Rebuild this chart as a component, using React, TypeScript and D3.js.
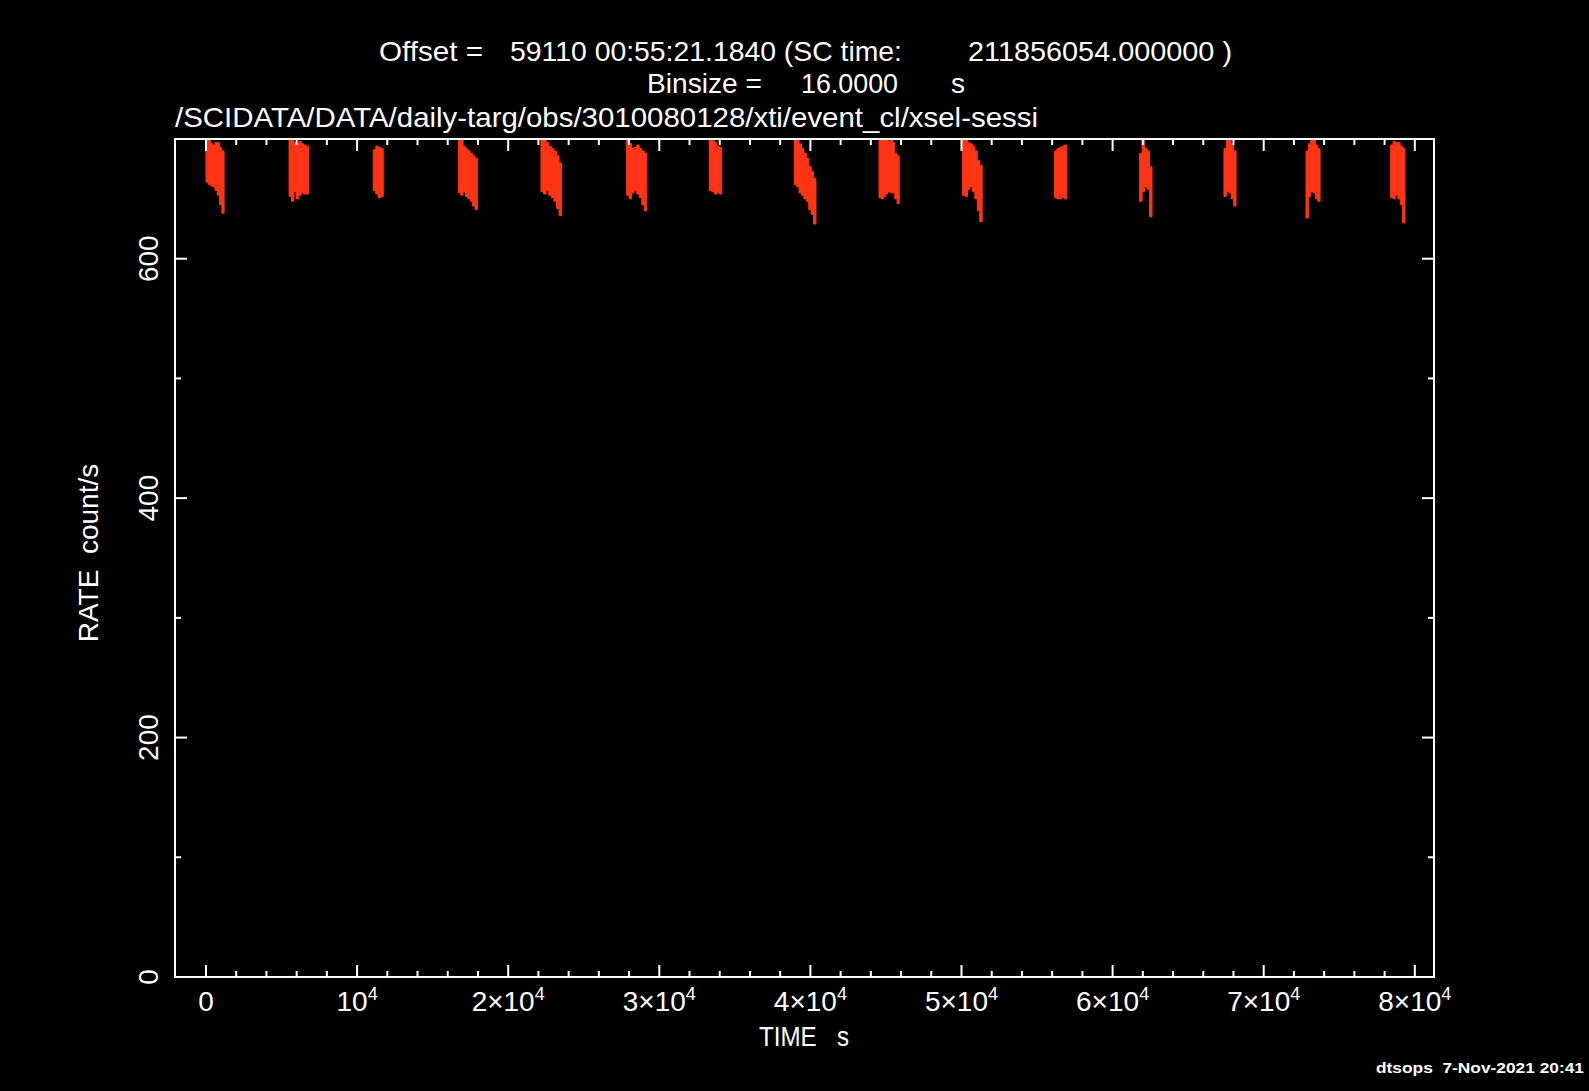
import React from 'react';
import * as d3 from 'd3';

// light curve bursts: start/end time (s) and, per
// time chunk, the lowest and highest rate reached (count/s)
const burstStart = [0, 5500, 11070, 16700, 22170, 27840, 33310, 38930, 44540, 50070, 56150, 61790, 67370, 72800, 78400];
const burstEnd = [1200, 6780, 11730, 17960, 23540, 29170, 34130, 40370, 45880, 51370, 56960, 62610, 68170, 73730, 79350];
const burstHigh = [
  [705, 702, 696, 695, 697, 697, 693, 690],
  [705, 705, 697, 696, 698, 696, 695, 694],
  [691, 694, 693, 692],
  [705, 700, 694, 692, 690, 688, 686, 684],
  [705, 703, 697, 694, 692, 690, 686, 680],
  [705, 696, 692, 693, 695, 692, 690, 688],
  [705, 705, 697, 694, 693],
  [705, 703, 696, 692, 688, 684, 677, 673, 667],
  [705, 705, 700, 702, 698, 700, 697, 688, 686],
  [703, 700, 697, 696, 694, 690, 682, 678],
  [690, 692, 693, 694, 695],
  [688, 703, 692, 690, 677],
  [692, 700, 703, 696, 690],
  [690, 696, 702, 700, 695, 692],
  [695, 698, 697, 697, 694, 692],
];
const burstLow = [
  [664, 662, 661, 660, 657, 653, 645, 638],
  [652, 648, 656, 650, 653, 655, 654, 654],
  [657, 654, 651, 652],
  [655, 653, 656, 652, 650, 648, 644, 641],
  [656, 654, 657, 653, 651, 648, 642, 636],
  [653, 650, 655, 657, 654, 651, 645, 640],
  [657, 656, 654, 655, 654],
  [662, 660, 655, 653, 650, 648, 641, 637, 629],
  [651, 650, 652, 654, 656, 655, 655, 650, 646],
  [653, 652, 658, 660, 656, 650, 640, 631],
  [651, 650, 650, 651, 650],
  [648, 656, 660, 658, 635],
  [652, 656, 655, 650, 644],
  [634, 652, 656, 655, 650, 648],
  [651, 650, 653, 650, 645, 630],
];

const xMajorTicks = [0, 10000, 20000, 30000, 40000, 50000, 60000, 70000, 80000];
const xTickLabels = ['0', '10^4', '2×10^4', '3×10^4', '4×10^4', '5×10^4', '6×10^4', '7×10^4', '8×10^4'];
const yMajorTicks = [0, 200, 400, 600];
const yTickLabels = ['0', '200', '400', '600'];

const W = 1589;
const H = 1091;
const left = 175;
const right = 1434;
const top = 139;
const bottom = 977;
const FONT = '"Liberation Sans", Arial, sans-serif';
const RED = '#ff3415';

export default function App() {
  const x = d3.scaleLinear().domain([-2050, 81270]).range([left, right]);
  const y = d3.scaleLinear().domain([0, 700]).range([bottom, top]);

  const xMinor = d3.range(0, 80001, 2000).filter(v => !xMajorTicks.includes(v));
  const yMinor = d3.range(100, 700, 100).filter(v => !yMajorTicks.includes(v));

  type Pt = { t: number; lo: number; hi: number };
  const area = d3.area<Pt>()
    .x(d => x(d.t))
    .y0(d => y(d.lo))
    .y1(d => y(d.hi))
    .curve(d3.curveStepAfter);

  const bursts = burstStart.map((t0, i) => {
    const hi = burstHigh[i];
    const lo = burstLow[i];
    const step = (burstEnd[i] - t0) / hi.length;
    const pts: Pt[] = hi.map((h, j) => ({ t: t0 + j * step, lo: lo[j], hi: h }));
    pts.push({ t: burstEnd[i], lo: lo[lo.length - 1], hi: hi[hi.length - 1] });
    return area(pts) as string;
  });

  const txt = { fill: '#fff', fontFamily: FONT, whiteSpace: 'pre' } as React.CSSProperties;

  return (
    <div style={{ position: 'fixed', left: 0, top: 0, width: W, height: H, background: '#000' }}>
      <svg width={W} height={H} style={{ display: 'block' }}>
        <rect width={W} height={H} fill="#000" />
        <defs>
          <clipPath id="plot">
            <rect x={left} y={top} width={right - left} height={bottom - top} />
          </clipPath>
        </defs>

        {/* data */}
        <g clipPath="url(#plot)">
          {bursts.map((d, i) => (
            <path key={i} d={d} fill={RED} stroke={RED} strokeWidth={1} />
          ))}
        </g>

        {/* frame */}
        <rect x={left} y={top} width={right - left} height={bottom - top} fill="none" stroke="#fff" strokeWidth={2} />

        {/* x ticks, bottom and top */}
        <g stroke="#fff" strokeWidth={2}>
          {xMajorTicks.map(v => (
            <g key={'xm' + v}>
              <line x1={x(v)} x2={x(v)} y1={bottom} y2={bottom - 12} />
              <line x1={x(v)} x2={x(v)} y1={top} y2={top + 12} />
            </g>
          ))}
          {xMinor.map(v => (
            <g key={'xn' + v}>
              <line x1={x(v)} x2={x(v)} y1={bottom} y2={bottom - 6} />
              <line x1={x(v)} x2={x(v)} y1={top} y2={top + 6} />
            </g>
          ))}
          {yMajorTicks.map(v => (
            <g key={'ym' + v}>
              <line x1={left} x2={left + 12} y1={y(v)} y2={y(v)} />
              <line x1={right} x2={right - 12} y1={y(v)} y2={y(v)} />
            </g>
          ))}
          {yMinor.map(v => (
            <g key={'yn' + v}>
              <line x1={left} x2={left + 6} y1={y(v)} y2={y(v)} />
              <line x1={right} x2={right - 6} y1={y(v)} y2={y(v)} />
            </g>
          ))}
        </g>

        {/* x tick labels */}
        {xMajorTicks.map((v, i) => {
          const [base, sup] = xTickLabels[i].split('^');
          return (
            <text key={'xl' + v} x={x(v)} y={1011} textAnchor="middle" fontSize={28} style={txt}>
              {base}
              {sup && <tspan fontSize={18} dy={-11}>{sup}</tspan>}
            </text>
          );
        })}

        {/* y tick labels */}
        {yMajorTicks.map((v, i) => (
          <text key={'yl' + v} transform={`translate(158,${y(v)}) rotate(-90)`} textAnchor="middle" fontSize={28} style={txt}>
            {yTickLabels[i]}
          </text>
        ))}

        {/* axis titles */}
        <text x={759} y={1046} fontSize={28} style={txt} textLength={90} lengthAdjust="spacingAndGlyphs">TIME   s</text>
        <text transform="translate(97.5,553) rotate(-90)" textAnchor="middle" fontSize={28} style={txt}>RATE  count/s</text>

        {/* header */}
        <text x={379} y={61} fontSize={28} style={txt} textLength={104} lengthAdjust="spacingAndGlyphs">Offset =</text>
        <text x={510} y={61} fontSize={28} style={txt} textLength={392} lengthAdjust="spacingAndGlyphs">59110 00:55:21.1840 (SC time:</text>
        <text x={968} y={61} fontSize={28} style={txt} textLength={264} lengthAdjust="spacingAndGlyphs">211856054.000000 )</text>
        <text x={647} y={93} fontSize={28} style={txt} textLength={115} lengthAdjust="spacingAndGlyphs">Binsize =</text>
        <text x={801} y={93} fontSize={28} style={txt} textLength={97} lengthAdjust="spacingAndGlyphs">16.0000</text>
        <text x={951} y={93} fontSize={28} style={txt}>s</text>
        <text x={175} y={127} fontSize={28} style={txt} textLength={863} lengthAdjust="spacingAndGlyphs">/SCIDATA/DATA/daily-targ/obs/3010080128/xti/event_cl/xsel-sessi</text>

        {/* stamp */}
        <text x={1376} y={1073} fontSize={15} fontWeight="bold" style={txt} textLength={208} lengthAdjust="spacingAndGlyphs">dtsops  7-Nov-2021 20:41</text>
      </svg>
    </div>
  );
}
